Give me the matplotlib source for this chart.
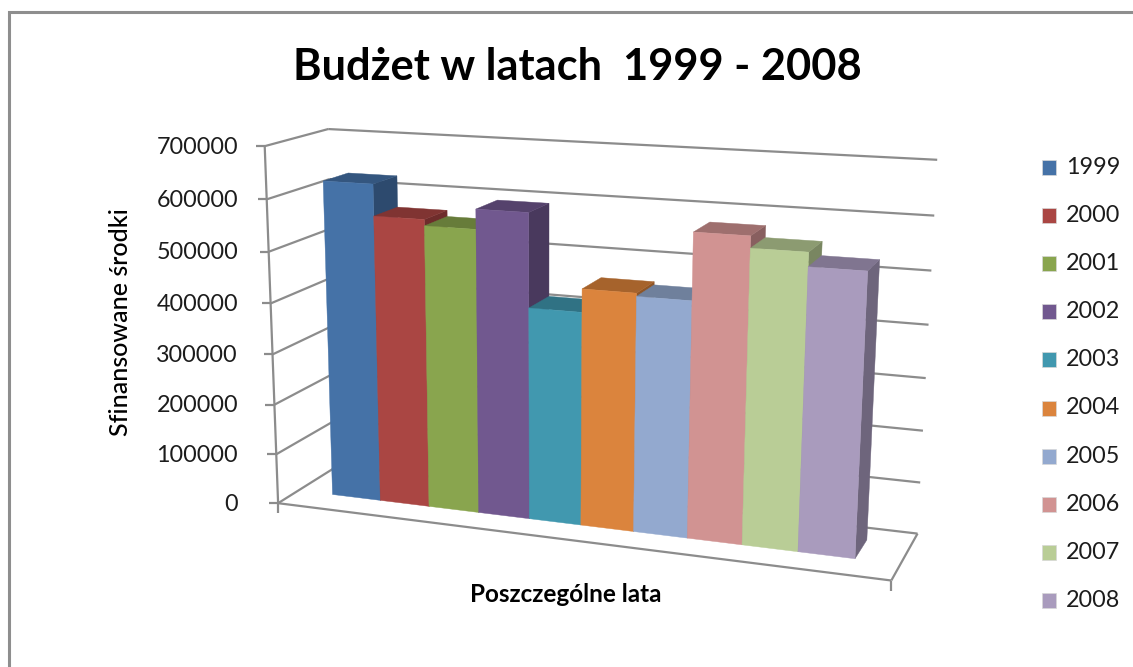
import numpy as np
import matplotlib
matplotlib.use("Agg")
import matplotlib.pyplot as plt
from matplotlib.patches import Polygon, Rectangle

years = ["1999", "2000", "2001", "2002", "2003", "2004", "2005", "2006", "2007", "2008"]
budget = [626000, 565000, 553000, 591000, 412000, 456000, 450000, 575000, 553000, 527000]
yticks = [0, 100000, 200000, 300000, 400000, 500000, 600000, 700000]
title = "Budżet w latach  1999 - 2008"
ylabel = "Sfinansowane środki"
xlabel = "Poszczególne lata"
front_cols = ["#4572A7", "#AA4643", "#89A54E", "#71588F", "#4198AF",
              "#DB843D", "#93A9CF", "#D19392", "#B9CD96", "#A99BBD"]
top_cols = ["#34567F", "#803432", "#677C3A", "#55426C", "#307284",
            "#A6632C", "#6F809C", "#9E6F6E", "#8C9B71", "#807590"]
side_cols = ["#2D4A6E", "#6E2C2B", "#596B32", "#49395D", "#2A6372",
             "#8F5526", "#606E87", "#885F5F", "#798661", "#6E657C"]
VMAX = 700000

plt.rcParams["font.family"] = ["Lato", "DejaVu Sans"]

# Camera calibration: cube corners (x, depth, value share) -> figure pixels
cube = np.array([[0, 0, 0], [0, 0, 1], [0, 1, 1], [0, 1, 0],
                 [1, 0, 0], [1, 1, 0], [1, 1, 1]], float)
pix = np.array([[280, 502], [263, 146], [330, 129], [336, 467],
                [891, 582], [918, 532], [937, 160]], float)
rows, rhs = [], []
for (a, b, c), (u, v) in zip(cube, pix):
    rows.append([a, b, c, 1, 0, 0, 0, 0, -u*a, -u*b, -u*c]); rhs.append(u)
    rows.append([0, 0, 0, 0, a, b, c, 1, -v*a, -v*b, -v*c]); rhs.append(v)
P = np.append(np.linalg.lstsq(np.array(rows), np.array(rhs), rcond=None)[0], 1).reshape(3, 4)


def project(x, d, val):
    h = P @ np.array([x, d, val / VMAX, 1.0])
    return h[0] / h[2], h[1] / h[2]


fig = plt.figure(figsize=(11.33, 6.67), dpi=100)
ax = fig.add_axes([0, 0, 1, 1])
ax.set_xlim(0, 1133)
ax.set_ylim(667, 0)
ax.axis("off")

GRID = "#8C8C8C"
LW = 1.6
# chart frame
ax.plot([9, 9, 1133], [667, 12, 12], color="#8E8E8E", lw=2.2, solid_joinstyle="miter")


def seg(a, b, **kw):
    ax.plot([a[0], b[0]], [a[1], b[1]], color=GRID, lw=LW, solid_capstyle="butt", **kw)


for v in yticks:
    seg(project(0, 0, v), project(0, 1, v))
    seg(project(0, 1, v), project(1, 1, v))
    p = project(0, 0, v)
    seg((p[0] - 9, p[1]), p)
    ax.text(238, p[1] + 1, str(v), ha="right", va="center", fontsize=16.8, color="#1c1c1c")
seg(project(0, 0, 0), project(0, 0, VMAX))
seg(project(0, 0, 0), project(1, 0, 0))
seg(project(1, 0, 0), project(1, 1, 0))
for x in (0, 1):
    p = project(x, 0, 0)
    seg(p, (p[0], p[1] + 10))

# bars
n = len(budget)
bw = 1 / (n + 1.5)
d0, d1 = 0.33, 0.74
for i, val in enumerate(budget):
    x0 = (0.72 + i) * bw
    x1 = x0 + bw
    top = [project(x0, d0, val), project(x1, d0, val), project(x1, d1, val), project(x0, d1, val)]
    side = [project(x1, d0, 0), project(x1, d0, val), project(x1, d1, val), project(x1, d1, 0)]
    front = [project(x0, d0, 0), project(x1, d0, 0), project(x1, d0, val), project(x0, d0, val)]
    ax.add_patch(Polygon(side, closed=True, fc=side_cols[i], ec=side_cols[i], lw=0.3, zorder=3 + i))
    ax.add_patch(Polygon(top, closed=True, fc=top_cols[i], ec=top_cols[i], lw=0.3, zorder=3 + i))
    ax.add_patch(Polygon(front, closed=True, fc=front_cols[i], ec=front_cols[i], lw=0.3, zorder=3 + i))

# legend
for i, y in enumerate(years):
    yc = 167 + i * 48.2
    ax.add_patch(Rectangle((1042, yc - 7.5), 14, 15, fc=front_cols[i], ec="#d8d8d8", lw=0.5))
    ax.text(1066, yc, y, ha="left", va="center", fontsize=16.8, color="#1c1c1c")

ax.text(577, 67, title, ha="center", va="center", fontsize=31.2, fontweight="bold", color="black")
ax.text(121, 322, ylabel, rotation=90, ha="center", va="center", fontsize=18, color="black", fontweight="medium")
ax.text(566, 595, xlabel, ha="center", va="center", fontsize=17.5, fontweight="bold", color="black")

fig.savefig("out.png", dpi=100)
